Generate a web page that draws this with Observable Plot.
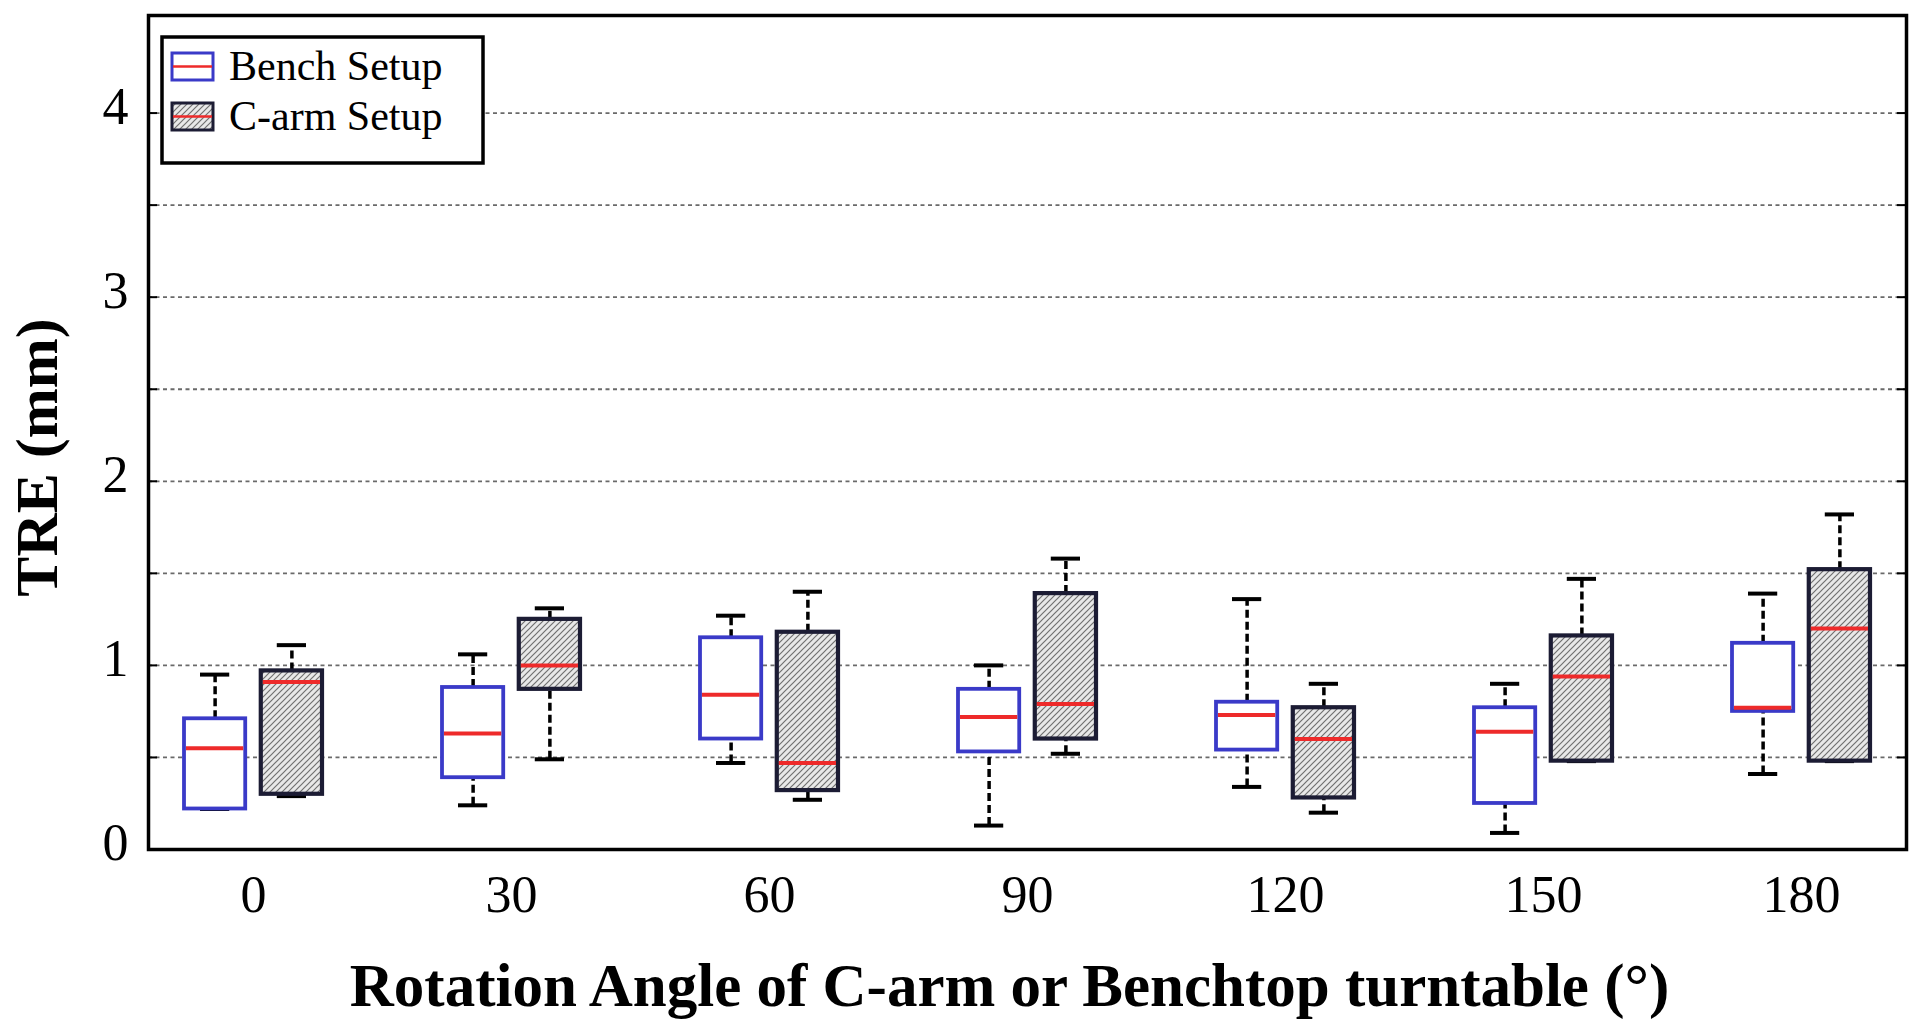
<!DOCTYPE html>
<html>
<head>
<meta charset="utf-8">
<script src="https://cdn.jsdelivr.net/npm/d3@7"></script>
<script src="https://cdn.jsdelivr.net/npm/@observablehq/plot@0.6"></script>
<style>
  body { margin: 0; background: #fff; }
  #wrap { position: relative; width: 1920px; height: 1031px; background: #fff; }
  #legend { position: absolute; left: 160px; top: 35px; }
</style>
</head>
<body>
<svg width="0" height="0" style="position:absolute">
  <defs>
    <pattern id="hatch" patternUnits="userSpaceOnUse" width="6" height="6">
      <rect width="6" height="6" fill="#e8e8e8"></rect>
      <path d="M-1,1 l2,-2 M0,6 l6,-6 M5,7 l2,-2" stroke="#707070" stroke-width="1.2"></path>
    </pattern>
  </defs>
</svg>
<div id="wrap"></div>
<script>
// ---- data (TRE in mm) ----
const angles = [0, 30, 60, 90, 120, 150, 180];
const setups = ["Bench Setup", "C-arm Setup"];

const benchLow    = [0.22, 0.24, 0.47, 0.13, 0.34, 0.09, 0.41];
const benchQ1     = [0.22, 0.39, 0.60, 0.53, 0.54, 0.25, 0.75];
const benchMedian = [0.55, 0.63, 0.84, 0.72, 0.73, 0.64, 0.77];
const benchQ3     = [0.71, 0.88, 1.15, 0.87, 0.80, 0.77, 1.12];
const benchHigh   = [0.95, 1.06, 1.27, 1.00, 1.36, 0.90, 1.39];

const carmLow     = [0.29, 0.49, 0.27, 0.52, 0.20, 0.48, 0.48];
const carmQ1      = [0.30, 0.87, 0.32, 0.60, 0.28, 0.48, 0.48];
const carmMedian  = [0.91, 1.00, 0.47, 0.79, 0.60, 0.94, 1.20];
const carmQ3      = [0.97, 1.25, 1.18, 1.39, 0.77, 1.16, 1.52];
const carmHigh    = [1.11, 1.31, 1.40, 1.58, 0.90, 1.47, 1.82];

const yTicks = [0, 1, 2, 3, 4];
const gridValues = [0.5, 1, 1.5, 2, 2.5, 3, 3.5, 4];
const xLabel = "Rotation Angle of C-arm or Benchtop turntable (°)";
const yLabel = "TRE (mm)";

// ---- tables built from the arrays ----
const bench = angles.map((a, i) => ({angle: a, low: benchLow[i], q1: benchQ1[i], med: benchMedian[i], q3: benchQ3[i], high: benchHigh[i]}));
const carm  = angles.map((a, i) => ({angle: a, low: carmLow[i], q1: carmQ1[i], med: carmMedian[i], q3: carmQ3[i], high: carmHigh[i]}));

// ---- styling constants (pixels) ----
const FONT = "'Liberation Serif', 'Times New Roman', serif";
const W = 1920, H = 1031, ML = 148, MR = 14, MT = 15, MB = 182;
const PI = 0.464, PO = 0.127;
const step = (W - ML - MR) / (angles.length - PI + 2 * PO);
const BW = step * (1 - PI);       // band width holding both boxes
const BOX = 62;                   // box width
const OFF = BW / 2 - BOX / 2;     // box centre offset from band centre
const CAP = 30;
const capIn = BOX / 2 - CAP / 2;
const BLUE = "#3a3ac8", DARK = "#1c1c34", RED = "#ee2a2a";
const plotW = W - ML - MR;

function boxMarks(rows, side, opts) {
  // side = -1 (left, bench) or +1 (right, C-arm)
  const boxIns = side < 0 ? {insetRight: BW - BOX} : {insetLeft: BW - BOX};
  const capIns = side < 0 ? {insetLeft: capIn, insetRight: BW - BOX + capIn} : {insetLeft: BW - BOX + capIn, insetRight: capIn};
  const medIns = side < 0 ? {insetLeft: 2, insetRight: BW - BOX + 2} : {insetLeft: BW - BOX + 2, insetRight: 2};
  const dash = {stroke: "black", strokeWidth: 3.5, strokeDasharray: "8,4", dx: side * OFF};
  return [
    Plot.ruleX(rows, {x: "angle", y1: "q3", y2: "high", ...dash}),
    Plot.ruleX(rows, {x: "angle", y1: "low", y2: "q1", ...dash}),
    Plot.tickY(rows, {x: "angle", y: "high", stroke: "black", strokeWidth: 4, ...capIns}),
    Plot.tickY(rows, {x: "angle", y: "low", stroke: "black", strokeWidth: 4, ...capIns}),
    Plot.barY(rows, {x: "angle", y1: "q1", y2: "q3", fill: opts.fill, stroke: opts.stroke, strokeWidth: opts.sw, ...boxIns}),
    Plot.tickY(rows, {x: "angle", y: "med", stroke: RED, strokeWidth: 4, ...medIns})
  ];
}

const chart = Plot.plot({
  width: W,
  height: H,
  marginLeft: ML,
  marginRight: MR,
  marginTop: MT,
  marginBottom: MB,
  style: {background: "#fff", fontFamily: FONT, overflow: "visible"},
  x: {type: "band", domain: angles, paddingInner: PI, paddingOuter: PO, axis: null},
  y: {domain: [0, 4.53], axis: null},
  marks: [
    Plot.ruleY(gridValues, {y: d => d, stroke: "#6a6a6a", strokeWidth: 1.8, strokeDasharray: "4,3.5"}),
    Plot.tickY(gridValues, {y: d => d, stroke: "black", strokeWidth: 2, insetRight: plotW - 9}),
    Plot.tickY(gridValues, {y: d => d, stroke: "black", strokeWidth: 2, insetLeft: plotW - 9}),
    ...boxMarks(bench, -1, {fill: "white", stroke: BLUE, sw: 3.8}),
    ...boxMarks(carm, 1, {fill: "url(#hatch)", stroke: DARK, sw: 4.2}),
    Plot.frame({stroke: "black", strokeWidth: 3.5}),
    Plot.text(yTicks, {y: d => d, text: d => String(d), frameAnchor: "left", textAnchor: "end", lineAnchor: "middle", dx: -20, dy: -6, fontSize: 52, fontFamily: FONT, fill: "black"}),
    Plot.text(angles, {x: d => d, text: d => String(d), frameAnchor: "bottom", textAnchor: "middle", lineAnchor: "bottom", dy: 62, fontSize: 52, fontFamily: FONT, fill: "black"}),
    Plot.text([xLabel], {frameAnchor: "bottom", textAnchor: "middle", lineAnchor: "bottom", dx: -18, dy: 156, fontSize: 61, fontWeight: "bold", fontFamily: FONT, fill: "black"}),
    Plot.text([yLabel], {frameAnchor: "left", textAnchor: "middle", lineAnchor: "middle", dx: -111, dy: 25, rotate: -90, fontSize: 60, fontWeight: "bold", fontFamily: FONT, fill: "black"})
  ]
});
document.getElementById("wrap").appendChild(chart);

// ---- legend (top-left, inside the frame) ----
const lg = d3.select("#wrap").append("svg")
  .attr("id", "legend").attr("width", 330).attr("height", 135);
lg.append("rect").attr("x", 2).attr("y", 2).attr("width", 321).attr("height", 126)
  .attr("fill", "white").attr("stroke", "black").attr("stroke-width", 3.5);
const swFill = ["white", "url(#hatch)"], swStroke = [BLUE, DARK];
setups.forEach((name, i) => {
  const y0 = 18 + i * 50;
  lg.append("rect").attr("x", 12).attr("y", y0).attr("width", 41).attr("height", 27)
    .attr("fill", swFill[i]).attr("stroke", swStroke[i]).attr("stroke-width", 3);
  lg.append("line").attr("x1", 13).attr("x2", 52).attr("y1", y0 + 13.5).attr("y2", y0 + 13.5)
    .attr("stroke", RED).attr("stroke-width", 2.5);
  lg.append("text").attr("x", 69).attr("y", y0 + 27).attr("font-family", FONT)
    .attr("font-size", 42).attr("fill", "black").text(name);
});
</script>
</body>
</html>
